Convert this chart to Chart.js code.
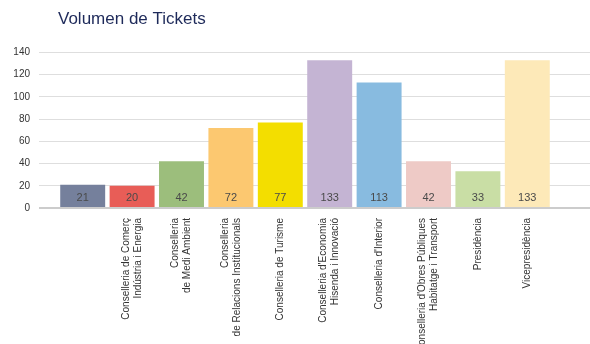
<!DOCTYPE html>
<html>
<head>
<meta charset="utf-8">
<script src="https://cdn.jsdelivr.net/npm/chart.js@4"></script>
<style>
    body { margin: 0; background: #fff; }
    #wrap { width: 590px; height: 344px; }
</style>
</head>
<body>
<div id="wrap"><canvas id="tickets-chart"></canvas></div>
<script>
const titel = 'Volumen de Tickets';

const bereiche = [
    '',
    ['Conselleria de Comerç', 'Indústria i Energia'],
    ['Conselleria', 'de Medi Ambient'],
    ['Conselleria', 'de Relacions Institucionals'],
    'Conselleria de Turisme',
    ["Conselleria d'Economia", 'Hisenda i Innovació'],
    "Conselleria d'Interior",
    ["Conselleria d'Obres Públiques", 'Habitatge i Transport'],
    'Presidència',
    'Vicepresidència'
];

const tickets = [21, 20, 42, 72, 77, 133, 113, 42, 33, 133];

const farben = [
    '#75809c', '#e85d57', '#9cbe7c', '#fcc870', '#f3de00',
    '#c4b4d3', '#88bbe0', '#eecac6', '#c9dea5', '#fde9b8'
];

const yMin = 0;
const yMax = 140;
const yStep = 20;

const schrift = "'Liberation Sans', Arial, Helvetica, sans-serif";

// Zahlen unten in den Balken
const werteImBalken = {
    id: 'werteImBalken',
    afterDatasetsDraw(chart) {
        const ctx = chart.ctx;
        const unten = chart.scales.y.getPixelForValue(0);
        const meta = chart.getDatasetMeta(0);
        ctx.save();
        ctx.font = '11px ' + schrift;
        ctx.fillStyle = '#4a4a4a';
        ctx.textAlign = 'center';
        ctx.textBaseline = 'middle';
        meta.data.forEach((bar, i) => {
            ctx.fillText(String(tickets[i]), bar.x, unten - 10);
        });
        ctx.restore();
    }
};

// zweizeilige Beschriftungen mittig unter den Balken setzen
const labelsMittig = {
    id: 'labelsMittig',
    beforeDraw(chart) {
        const items = chart.scales.x.getLabelItems();
        items.forEach(item => {
            if (Array.isArray(item.label) && !item.verschoben) {
                item.options.translation[0] -= 6 * (item.label.length - 1);
                item.verschoben = true;
            }
        });
    }
};

function CreateChart() {
    const ctx = document.getElementById('tickets-chart').getContext('2d');
    new Chart(ctx, {
        type: 'bar',
        data: {
            labels: bereiche,
            datasets: [{
                data: tickets,
                backgroundColor: farben,
                borderWidth: 0,
                barPercentage: 0.91,
                categoryPercentage: 1
            }]
        },
        options: {
            responsive: true,
            maintainAspectRatio: false,
            animation: false,
            layout: { padding: 0 },
            plugins: {
                legend: { display: false },
                tooltip: { enabled: false },
                title: {
                    display: true,
                    text: titel,
                    align: 'start',
                    fullSize: false,
                    color: '#1e2a5a',
                    font: { family: schrift, size: 17, weight: 'normal' },
                    padding: { top: 9, bottom: 23 }
                }
            },
            scales: {
                x: {
                    grid: { display: false, drawTicks: false },
                    border: { display: false },
                    ticks: {
                        autoSkip: false,
                        minRotation: 90,
                        maxRotation: 90,
                        padding: 10,
                        color: '#333',
                        font: { family: schrift, size: 10 }
                    },
                    afterFit: s => { s.height = 136; }
                },
                y: {
                    min: yMin,
                    max: yMax,
                    border: { display: false },
                    grid: {
                        color: c => c.tick && c.tick.value === 0 ? '#cccccc' : '#dedede',
                        lineWidth: c => c.tick && c.tick.value === 0 ? 2 : 1,
                        tickLength: 19
                    },
                    ticks: {
                        stepSize: yStep,
                        padding: 9,
                        color: '#333',
                        font: { family: schrift, size: 10 }
                    },
                    afterFit: s => { s.width = 58; }
                },
                y2: {
                    position: 'right',
                    min: yMin,
                    max: yMax,
                    border: { display: false },
                    grid: {
                        drawOnChartArea: false,
                        color: c => c.tick && c.tick.value === 0 ? '#cccccc' : '#dedede',
                        lineWidth: c => c.tick && c.tick.value === 0 ? 2 : 1,
                        tickLength: 38
                    },
                    ticks: { display: false, stepSize: yStep },
                    afterFit: s => { s.width = 38; }
                }
            }
        },
        plugins: [werteImBalken, labelsMittig]
    });
}

CreateChart();
</script>
</body>
</html>
